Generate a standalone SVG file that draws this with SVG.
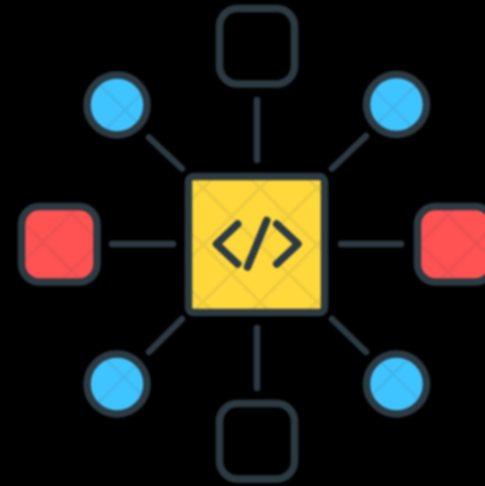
<svg xmlns="http://www.w3.org/2000/svg" width="485" height="486" viewBox="0 0 485 486">
<defs>
<filter id="soft" x="-5%" y="-5%" width="110%" height="110%" color-interpolation-filters="sRGB"><feGaussianBlur stdDeviation="0.8"/></filter>
<pattern id="lat" patternUnits="userSpaceOnUse" width="57" height="57" patternTransform="translate(260 245)">
<path d="M0 0L57 57M57 0L0 57M-5 52L5 62M52-5L62 5M-5 5L5-5M52 62L62 52" fill="none" stroke="#333a40" stroke-opacity=".09" stroke-width="3"/>
</pattern>
<pattern id="latTL" href="#lat" patternTransform="translate(125 110)"/>
<pattern id="latTR" href="#lat" patternTransform="translate(393 108)"/>
<pattern id="latBL" href="#lat" patternTransform="translate(124 377)"/>
<pattern id="latBR" href="#lat" patternTransform="translate(393 374)"/>
<pattern id="latL" href="#lat" patternTransform="translate(43 242)"/>
<pattern id="latR" href="#lat" patternTransform="translate(448 215)"/>
</defs>
<style>
.o{stroke:#2c3a42;stroke-width:7.500;fill:none}
.c{stroke:#2c3a42;stroke-width:6.500;fill:none;stroke-linecap:round;stroke-linejoin:round}
.g{stroke:#2c3a42;stroke-width:7.500;fill:none;stroke-linecap:round;stroke-linejoin:round}
</style>
<rect width="485" height="486" fill="#000"/>
<g filter="url(#soft)">
<g id="connectors" class="c">
<path d="M257 100V160"/><path d="M257 328V388"/><path d="M112 244H173"/><path d="M341 244H401"/>
<path d="M149 137.500L182 168.500"/><path d="M366 136L332 168.500"/><path d="M332 319L366 352"/><path d="M182 319L149 352"/>
</g>
<g id="center">
<rect x="188.500" y="176.500" width="136" height="136" rx="5" fill="#ffd83c"/>
<rect x="188.500" y="176.500" width="136" height="136" rx="5" fill="url(#lat)"/>
<rect x="188.500" y="176.500" width="136" height="136" rx="5" class="o"/>
<path class="g" d="M237.700 224L216.500 244L237.700 264M266.700 220.500L247.500 267M276.700 224L298 244L276.700 264"/>
</g>
<g id="square-top"><rect x="219.500" y="8.500" width="75" height="75.500" rx="18" class="o"/></g>
<g id="square-bottom"><rect x="219.500" y="403.500" width="75" height="75.500" rx="18" class="o"/></g>
<g id="square-left">
<rect x="21.500" y="206.500" width="75.500" height="75.500" rx="18" fill="#ff5252"/>
<rect x="21.500" y="206.500" width="75.500" height="75.500" rx="18" fill="url(#latL)"/>
<rect x="21.500" y="206.500" width="75.500" height="75.500" rx="18" class="o"/>
</g>
<g id="square-right">
<rect x="417.500" y="206.500" width="75.500" height="75.500" rx="18" fill="#ff5252"/>
<rect x="417.500" y="206.500" width="75.500" height="75.500" rx="18" fill="url(#latR)"/>
<rect x="417.500" y="206.500" width="75.500" height="75.500" rx="18" class="o"/>
</g>
<g id="circle-tl"><circle cx="117" cy="105" r="30" fill="#40c4ff"/><circle cx="117" cy="105" r="30" fill="url(#latTL)"/><circle cx="117" cy="105" r="30" class="o"/></g>
<g id="circle-tr"><circle cx="396.500" cy="104.500" r="30" fill="#40c4ff"/><circle cx="396.500" cy="104.500" r="30" fill="url(#latTR)"/><circle cx="396.500" cy="104.500" r="30" class="o"/></g>
<g id="circle-bl"><circle cx="117" cy="384" r="30" fill="#40c4ff"/><circle cx="117" cy="384" r="30" fill="url(#latBL)"/><circle cx="117" cy="384" r="30" class="o"/></g>
<g id="circle-br"><circle cx="396.500" cy="384" r="30" fill="#40c4ff"/><circle cx="396.500" cy="384" r="30" fill="url(#latBR)"/><circle cx="396.500" cy="384" r="30" class="o"/></g>
</g>
</svg>
